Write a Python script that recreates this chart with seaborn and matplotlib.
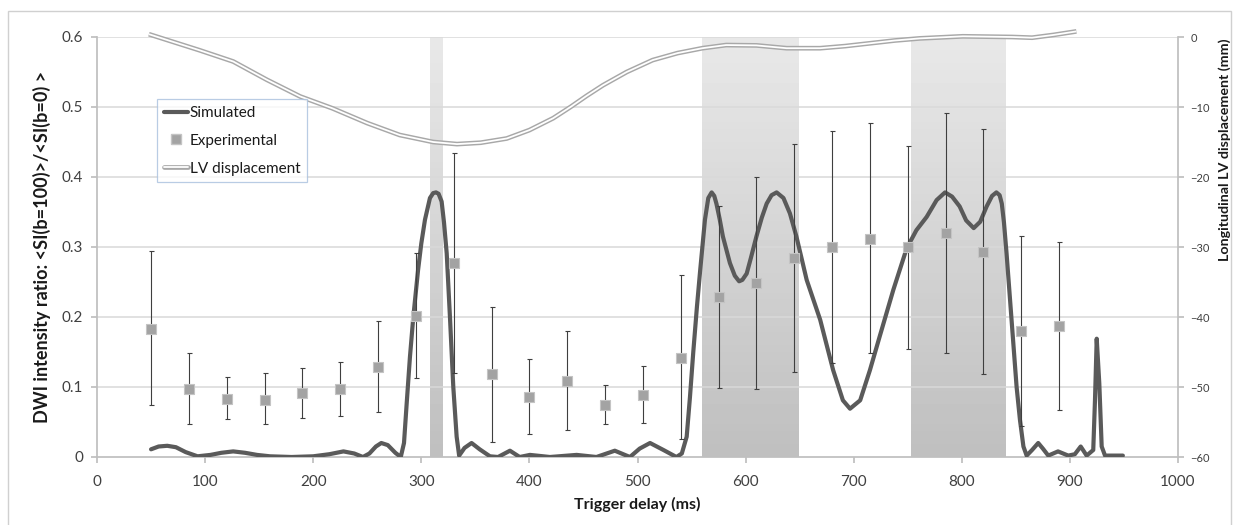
import numpy as np
import matplotlib
matplotlib.use("Agg")
import matplotlib.pyplot as plt
import seaborn as sns
from matplotlib.lines import Line2D
from matplotlib.patches import Rectangle
import matplotlib.patheffects as pe

# Experimental points (trigger delay in ms, ratio, error bar low / high)
exp_x = [50, 85, 120, 155, 190, 225, 260, 295, 330, 365, 400, 435, 470,
         505, 540, 575, 610, 645, 680, 715, 750, 785, 820, 855, 890]
exp_y = [0.183, 0.097, 0.083, 0.082, 0.091, 0.097, 0.129, 0.202, 0.277, 0.118,
         0.086, 0.108, 0.075, 0.088, 0.142, 0.228, 0.248, 0.284, 0.300, 0.312,
         0.300, 0.320, 0.293, 0.180, 0.187]
exp_lo = [0.075, 0.047, 0.054, 0.047, 0.056, 0.058, 0.065, 0.113, 0.120, 0.021,
          0.033, 0.038, 0.047, 0.049, 0.026, 0.099, 0.097, 0.122, 0.134, 0.148,
          0.154, 0.148, 0.118, 0.045, 0.067]
exp_hi = [0.295, 0.148, 0.114, 0.120, 0.127, 0.136, 0.194, 0.292, 0.435, 0.215,
          0.140, 0.180, 0.103, 0.130, 0.260, 0.358, 0.400, 0.447, 0.466, 0.477,
          0.445, 0.491, 0.469, 0.316, 0.307]

# Simulated curve
sim_x = [50, 57, 65, 73, 82, 93, 105, 115, 126, 137, 148, 160, 180, 200, 215,
         228, 238, 246, 252, 258, 263, 269, 276, 281, 284, 286.5, 289.5, 292.6,
         297, 300, 303.4, 308, 311, 313.6, 316, 318.8, 321, 323.5, 326.5, 329.6,
         332.7, 335, 340, 346.5, 354, 363.5, 371, 382, 391, 400.5, 419, 443.7,
         462, 479, 493, 502, 511.6, 524, 536, 541, 545.5, 548.5, 551.6, 555, 558,
         562.4, 565.5, 568.6, 571, 573, 576, 579, 585.5, 590, 594, 597, 601, 605,
         610, 615, 619.5, 624, 628.7, 635, 641, 647, 656.5, 669, 681, 690,
         696.6, 706, 715, 724, 736.7, 749, 758, 767.5, 776.7, 784.5, 791, 798,
         804, 811, 817, 823, 828, 832, 835, 837, 839, 841.4, 846, 850.7, 853.8,
         857, 860, 865, 870.7, 875, 880, 889, 898.5, 904.6, 910, 915.5, 921.6,
         923.2, 924.8, 927.2, 929.4, 932.5, 949]
sim_y = [0.011, 0.015, 0.016, 0.014, 0.007, 0.001, 0.003, 0.006, 0.008, 0.006,
         0.003, 0.001, 0.000, 0.001, 0.004, 0.008, 0.005, 0.000, 0.005, 0.015,
         0.020, 0.017, 0.006, 0.000, 0.020, 0.077, 0.143, 0.200, 0.267, 0.305,
         0.339, 0.370, 0.377, 0.378, 0.376, 0.365, 0.335, 0.291, 0.200, 0.100,
         0.029, 0.002, 0.013, 0.020, 0.011, 0.001, 0.000, 0.009, 0.000, 0.003,
         0.000, 0.003, 0.000, 0.009, 0.000, 0.012, 0.020, 0.010, 0.000, 0.005,
         0.029, 0.085, 0.150, 0.215, 0.267, 0.339, 0.370, 0.378, 0.373, 0.362,
         0.340, 0.315, 0.277, 0.259, 0.251, 0.253, 0.262, 0.285, 0.315, 0.342,
         0.362, 0.374, 0.378, 0.370, 0.348, 0.315, 0.253, 0.196, 0.124, 0.081,
         0.069, 0.081, 0.124, 0.172, 0.239, 0.298, 0.324, 0.343, 0.367, 0.378,
         0.372, 0.358, 0.338, 0.327, 0.336, 0.358, 0.373, 0.378, 0.374, 0.362,
         0.335, 0.291, 0.196, 0.100, 0.053, 0.015, 0.002, 0.010, 0.020, 0.012,
         0.002, 0.008, 0.002, 0.004, 0.015, 0.002, 0.010, 0.081, 0.169, 0.105,
         0.015, 0.002, 0.002]

# LV displacement (mm), right axis
lv_x = [48, 95, 126, 157, 188, 218, 250, 280, 311, 333, 355, 379, 400, 422,
        438, 453, 468, 490, 514, 537, 560, 582, 610, 638, 669, 692, 715, 738,
        761, 801, 847, 865, 885, 906]
lv_y = [0.4, -1.9, -3.5, -6.1, -8.5, -10.2, -12.3, -14.0, -15.0, -15.3, -15.1,
        -14.5, -13.3, -11.6, -10.0, -8.4, -6.9, -5.0, -3.3, -2.3, -1.6, -1.15,
        -1.2, -1.6, -1.6, -1.3, -0.9, -0.5, -0.2, 0.1, 0.0, -0.1, 0.3, 0.8]

# shaded trigger windows (ms)
band_start = [308, 560, 753]
band_end = [320, 649, 840]

sns.set_theme(style="white")
plt.rcParams["font.family"] = ["Lato", "DejaVu Sans"]

fig = plt.figure(figsize=(12.33, 5.25), dpi=100)
ax = fig.add_axes([97 / 1233, 1 - 457 / 525, 1081 / 1233, 420 / 525])

# gradient bands
grad = np.linspace(0.91, 0.75, 64).reshape(-1, 1)
for s, e in zip(band_start, band_end):
    ax.imshow(grad, extent=[s, e, 0, 0.6], aspect="auto", cmap="gray",
              vmin=0, vmax=1, origin="upper", zorder=0)

for v in np.arange(0.1, 0.61, 0.1):
    ax.axhline(v, color="#d9d9d9", lw=1.1, zorder=0.6)

sns.lineplot(x=sim_x, y=sim_y, ax=ax, color="#5a5a5a", lw=3.0,
             solid_capstyle="round", solid_joinstyle="round", zorder=3)

ax.errorbar(exp_x, exp_y,
            yerr=[np.array(exp_y) - np.array(exp_lo), np.array(exp_hi) - np.array(exp_y)],
            fmt="none", ecolor="#3f3f3f", elinewidth=0.8, capsize=1.8,
            capthick=0.8, zorder=4)
sns.scatterplot(x=exp_x, y=exp_y, ax=ax, marker="s", s=55, color="#a3a3a3",
                edgecolor="#c4c4c4", linewidth=0.8, zorder=5)

ax.set_xlim(0, 1000)
ax.set_ylim(0, 0.6)
ax.set_xticks(range(0, 1001, 100))
ax.set_yticks(np.round(np.arange(0, 0.61, 0.1), 1))
ax.set_yticklabels(["0", "0.1", "0.2", "0.3", "0.4", "0.5", "0.6"])
for sp in ["top", "right"]:
    ax.spines[sp].set_visible(False)
ax.spines["left"].set_color("#bfbfbf")
ax.spines["bottom"].set_color("#bfbfbf")
ax.tick_params(axis="both", which="both", direction="out", length=4,
               color="#bfbfbf", labelcolor="#404040", labelsize=11)
ax.tick_params(axis="y", pad=6)
ax.tick_params(axis="x", pad=9)
ax.tick_params(bottom=True, left=True)
ax.set_xlabel("Trigger delay (ms)", fontsize=11.5, fontweight="bold",
              color="#1a1a1a", labelpad=6)
ax.set_ylabel("DWI intensity ratio: <SI(b=100)>/<SI(b=0) >", fontsize=13,
              fontweight="bold", color="#1a1a1a", labelpad=8)

ax2 = ax.twinx()
ax2.set_ylim(-60, 0)
sns.lineplot(x=lv_x, y=lv_y, ax=ax2, color="#a8a8a8", lw=3.4,
             solid_capstyle="butt", clip_on=False, zorder=3,
             path_effects=[pe.Stroke(linewidth=3.4, foreground="#a8a8a8"),
                           pe.Stroke(linewidth=1.3, foreground="white")])
ax2.set_yticks(range(-60, 1, 10))
for sp in ["top", "left", "bottom"]:
    ax2.spines[sp].set_visible(False)
ax2.spines["right"].set_color("#bfbfbf")
ax2.tick_params(axis="y", direction="out", length=4, color="#bfbfbf",
                labelcolor="#404040", labelsize=8, pad=5, right=True)
ax2.set_ylabel("")
fig.text(1225 / 1233, 1 - 150 / 525, "Longitudinal LV displacement (mm)",
         rotation=90, ha="center", va="center", fontsize=10.3,
         fontweight="bold", color="#1a1a1a")

handles = [
    Line2D([], [], color="#5a5a5a", lw=3.0),
    Line2D([], [], ls="none", marker="s", markersize=7, color="#a3a3a3",
           markeredgecolor="#c4c4c4"),
    Line2D([], [], color="#a8a8a8", lw=3.4,
           path_effects=[pe.Stroke(linewidth=3.4, foreground="#a8a8a8"),
                         pe.Stroke(linewidth=1.3, foreground="white")]),
]
leg = ax2.legend(handles, ["Simulated", "Experimental", "LV displacement"],
                 loc="upper left", bbox_to_anchor=(0.0555, 0.852),
                 fontsize=11, frameon=True, fancybox=False, handlelength=1.6,
                 handletextpad=0.1, borderpad=0.45, labelspacing=0.9,
                 borderaxespad=0)
leg.get_frame().set_edgecolor("#a8c0de")
leg.get_frame().set_linewidth(0.9)
for t in leg.get_texts():
    t.set_color("#1a1a1a")

# outer chart border
fig.patches.append(Rectangle((8 / 1233, -0.02), 1223 / 1233, 0.02 + 1 - 11 / 525,
                             transform=fig.transFigure, fill=False,
                             edgecolor="#d0d0d0", lw=1.0))

fig.savefig("out.png", dpi=100)
